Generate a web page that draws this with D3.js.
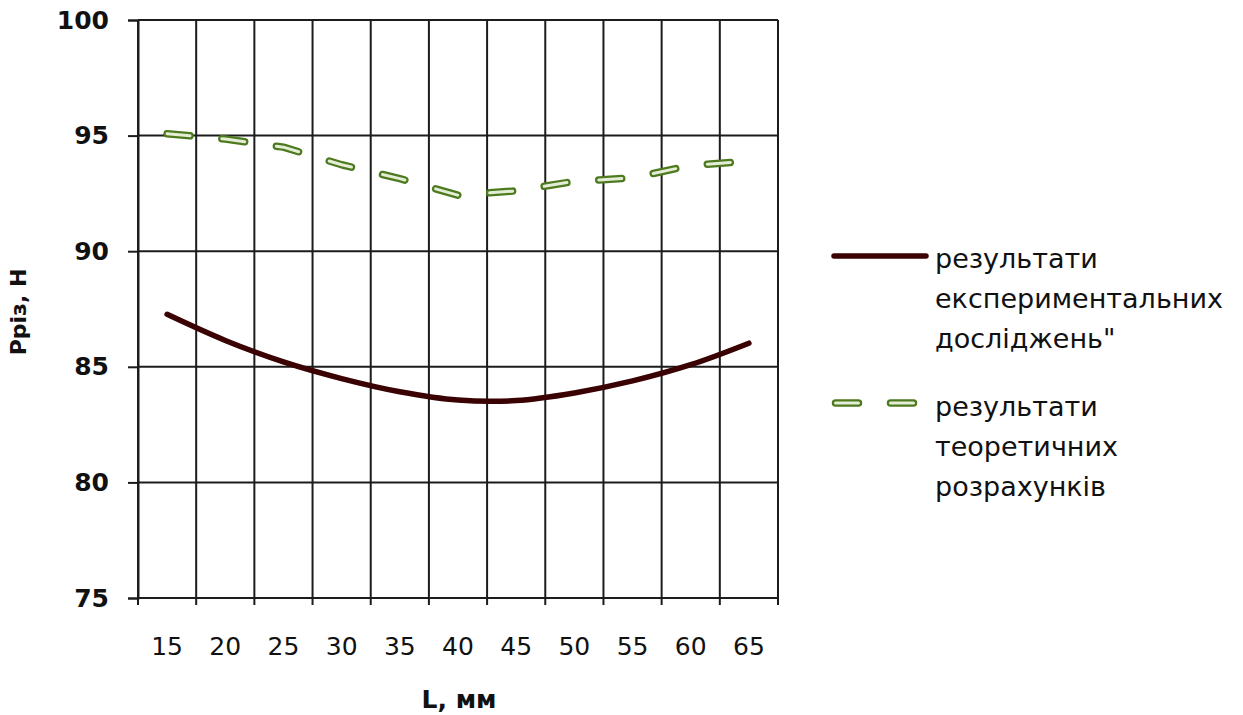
<!DOCTYPE html>
<html>
<head>
<meta charset="utf-8">
<script src="https://cdn.jsdelivr.net/npm/d3@7"></script>
<style>
  html, body { margin: 0; padding: 0; background: #fff; }
  svg { display: block; }
  text { font-family: "DejaVu Sans", Verdana, sans-serif; fill: #111; }
</style>
</head>
<body>
<svg id="chart" width="1243" height="715"></svg>
<script>
// Cutting length, mm
const categories = ["15", "20", "25", "30", "35", "40", "45", "50", "55", "60", "65"];
// Experimental results, N
const experimental = [87.27, 86.14, 85.21, 84.49, 83.92, 83.56, 83.54, 83.87, 84.39, 85.09, 86.02];
// Theoretical calculation, N
const theoretical = [95.08, 94.85, 94.50, 93.74, 93.14, 92.42, 92.61, 93.02, 93.17, 93.71, 93.90];
const yTicks = [75, 80, 85, 90, 95, 100];
const seriesNames = [
  ["результати", "експериментальних", "досліджень\""],
  ["результати", "теоретичних", "розрахунків"]
];
const yTitle = "Рріз, Н";
const xTitle = "L, мм";

const svg = d3.select("#chart");
const plot = { left: 138, right: 778, top: 20, bottom: 598 };

const x = d3.scaleBand().domain(categories).range([plot.left, plot.right]).padding(0);
const y = d3.scaleLinear().domain([75, 100]).range([plot.bottom, plot.top]);
const cx = c => x(c) + x.bandwidth() / 2;

const gridColor = "#1c1c1c";

// horizontal gridlines
svg.append("g").selectAll("line").data(yTicks).join("line")
  .attr("x1", plot.left).attr("x2", plot.right)
  .attr("y1", d => y(d)).attr("y2", d => y(d))
  .attr("stroke", gridColor).attr("stroke-width", 2);

// vertical gridlines at category boundaries
const bounds = categories.map(c => x(c)).concat([plot.right]);
svg.append("g").selectAll("line").data(bounds).join("line")
  .attr("x1", d => d).attr("x2", d => d)
  .attr("y1", plot.top).attr("y2", plot.bottom + 7)
  .attr("stroke", gridColor).attr("stroke-width", 2);

// y axis ticks and labels
const yAxis = svg.append("g").attr("transform", `translate(${plot.left},0)`)
  .call(d3.axisLeft(y).tickValues(yTicks).tickSize(10).tickPadding(19));
yAxis.select(".domain").attr("stroke", gridColor).attr("stroke-width", 2);
yAxis.selectAll(".tick line").attr("stroke", gridColor).attr("stroke-width", 2);
yAxis.selectAll(".tick text")
  .style("font-family", "'DejaVu Sans', Verdana, sans-serif")
  .style("font-size", "25px").style("font-weight", "bold").attr("fill", "#111");

// x axis labels
const xAxis = svg.append("g").attr("transform", `translate(0,${plot.bottom})`)
  .call(d3.axisBottom(x).tickSize(0).tickPadding(39));
xAxis.select(".domain").remove();
xAxis.selectAll(".tick text")
  .style("font-family", "'DejaVu Sans', Verdana, sans-serif")
  .style("font-size", "25px").attr("fill", "#111");

// axis titles
svg.append("text")
  .attr("transform", `translate(26,312) rotate(-90)`)
  .attr("text-anchor", "middle")
  .style("font-size", "22px").style("font-weight", "bold")
  .text(yTitle);
svg.append("text")
  .attr("x", 459).attr("y", 708)
  .attr("text-anchor", "middle")
  .style("font-size", "25px").style("font-weight", "bold")
  .text(xTitle);

// experimental curve (smoothed)
const smoothLine = d3.line()
  .x((d, i) => cx(categories[i])).y(d => y(d))
  .curve(d3.curveCatmullRom.alpha(0.5));
svg.append("path").datum(experimental)
  .attr("d", smoothLine)
  .attr("fill", "none").attr("stroke", "#3a0202")
  .attr("stroke-width", 5.5).attr("stroke-linecap", "round").attr("stroke-linejoin", "round");

// theoretical curve: dashed double-stroke
const straightLine = d3.line()
  .x((d, i) => cx(categories[i])).y(d => y(d));
const dash = "23 32";
svg.append("path").datum(theoretical)
  .attr("d", straightLine)
  .attr("fill", "none").attr("stroke", "#4d7a1e")
  .attr("stroke-width", 7.5).attr("stroke-dasharray", dash)
  .attr("stroke-linecap", "round").attr("stroke-linejoin", "round");
svg.append("path").datum(theoretical)
  .attr("d", straightLine)
  .attr("fill", "none").attr("stroke", "#e4edd6")
  .attr("stroke-width", 3).attr("stroke-dasharray", dash)
  .attr("stroke-linecap", "round").attr("stroke-linejoin", "round");

// legend
const legend = svg.append("g");
legend.append("line")
  .attr("x1", 834).attr("x2", 926).attr("y1", 256).attr("y2", 256)
  .attr("stroke", "#3a0202").attr("stroke-width", 5.5).attr("stroke-linecap", "round");
legend.append("line")
  .attr("x1", 835.5).attr("x2", 926).attr("y1", 403).attr("y2", 403)
  .attr("stroke", "#4d7a1e").attr("stroke-width", 7.5)
  .attr("stroke-dasharray", dash).attr("stroke-linecap", "round");
legend.append("line")
  .attr("x1", 835.5).attr("x2", 926).attr("y1", 403).attr("y2", 403)
  .attr("stroke", "#e4edd6").attr("stroke-width", 3)
  .attr("stroke-dasharray", dash).attr("stroke-linecap", "round");

const legendBase = [268, 416];
seriesNames.forEach((lines, k) => {
  const t = legend.append("text")
    .attr("x", 935).attr("y", legendBase[k])
    .style("font-size", "27px");
  lines.forEach((ln, j) => {
    t.append("tspan").attr("x", 935).attr("y", legendBase[k] + j * 40).text(ln);
  });
});
</script>
</body>
</html>
